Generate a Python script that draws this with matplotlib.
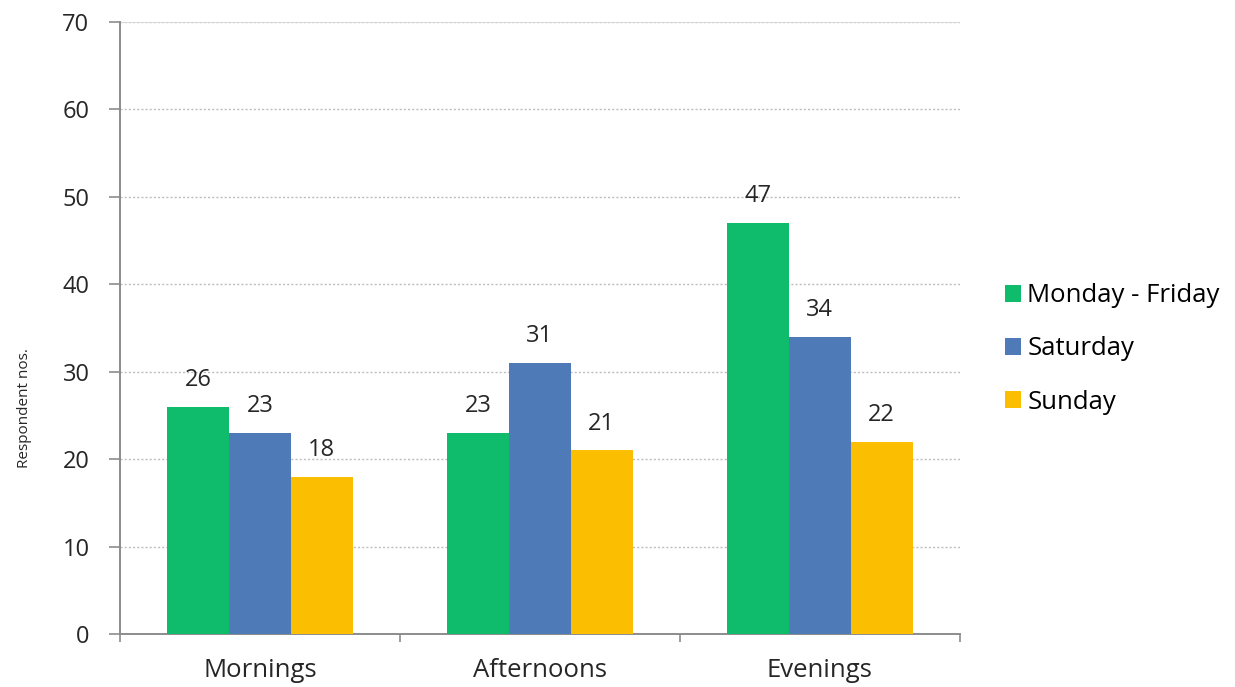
import numpy as np
import matplotlib
matplotlib.use('Agg')
import matplotlib.pyplot as plt

# chart data
categories = ['Mornings', 'Afternoons', 'Evenings']
series = ['Monday - Friday', 'Saturday', 'Sunday']
weekday = [26, 23, 47]
saturday = [23, 31, 34]
sunday = [18, 21, 22]
colors = ['#0EBC6C', '#4E7AB8', '#FBBE00']

plt.rcParams['font.family'] = ['Open Sans', 'DejaVu Sans']
txt = '#262626'

fig = plt.figure(figsize=(12.35, 6.87), dpi=100)
ax = fig.add_axes([0.0972, 0.0771, 0.6800, 0.8910])

x = np.arange(len(categories))
width = 0.221
for i, (vals, name) in enumerate(zip([weekday, saturday, sunday], series)):
    pos = x + (i - 1) * width
    bars = ax.bar(pos, vals, width, color=colors[i], label=name, zorder=3)
    for b, v in zip(bars, vals):
        ax.annotate(f'{v}', xy=(b.get_x() + b.get_width() / 2, v),
                    xytext=(0, 15), textcoords='offset points',
                    ha='center', va='baseline', fontsize=17, color=txt)

ax.set_xlim(-0.5, 2.5)
ax.set_ylim(0, 70)
ax.set_yticks(range(0, 71, 10))
ax.yaxis.grid(True, linestyle=(0, (1.5, 1.5)), color='#BDBDBD', linewidth=1.0, zorder=0)
ax.axhline(70, color='#D6D6D6', linewidth=1.2, zorder=1)
ax.set_axisbelow(True)

# category labels centred, ticks between groups
ax.set_xticks(x)
ax.set_xticklabels(categories, fontsize=18.5, color=txt)
ax.tick_params(axis='x', length=0, pad=17)
ax.set_xticks([-0.5, 0.5, 1.5, 2.5], minor=True)
ax.tick_params(axis='x', which='minor', length=6, width=1.2, color='#8C8C8C')
ax.tick_params(axis='y', length=8, width=1.2, color='#8C8C8C', labelsize=17,
               labelcolor=txt, pad=14)

for s in ['top', 'right']:
    ax.spines[s].set_visible(False)
for s in ['left', 'bottom']:
    ax.spines[s].set_color('#8C8C8C')
    ax.spines[s].set_linewidth(1.4)

ax.set_ylabel('Respondent nos.', fontsize=11, color=txt)
ax.yaxis.set_label_coords(-0.105, 0.369)

ax.legend(loc='center left', bbox_to_anchor=(0.8033, 0.492),
          bbox_transform=fig.transFigure, frameon=False, borderpad=0,
          fontsize=18.5, handlelength=0.62, handleheight=0.62,
          handletextpad=0.25, labelspacing=1.1)

fig.savefig('out.png', dpi=100)
